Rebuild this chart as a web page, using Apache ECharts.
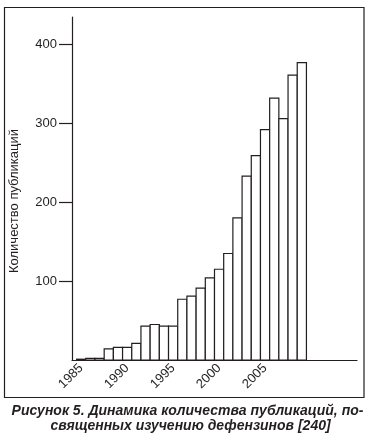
<!DOCTYPE html>
<html>
<head>
<meta charset="utf-8">
<script src="https://cdn.jsdelivr.net/npm/echarts@6/dist/echarts.min.js"></script>
<style>
html,body{margin:0;padding:0;background:#fff;}
#c{width:374px;height:439px;}
</style>
</head>
<body>
<div id="c"></div>
<script>
const years = [1985,1986,1987,1988,1989,1990,1991,1992,1993,1994,1995,1996,1997,1998,1999,2000,2001,2002,2003,2004,2005,2006,2007,2008,2009];
const publications = [1,2,2,14,16,16,21,43,45,43,43,77,81,91,104,115,135,180,233,259,292,332,306,361,377];
const xTickLabels = [1985,1990,1995,2000,2005];
const yTickLabels = [100,200,300,400];
const yTitle = 'Количество публикаций';
const captionLine1 = 'Рисунок 5. Динамика количества публикаций, по-';
const captionLine2 = 'священных изучению дефензинов [240]';

const ink = '#231f20';
const font = '"Liberation Sans", Arial, sans-serif';

const chart = echarts.init(document.getElementById('c'), null, {renderer:'canvas'});
chart.setOption({
  animation: false,
  backgroundColor: '#ffffff',
  grid: {left: 72, right: 17, top: 17, bottom: 79, containLabel: false},
  xAxis: {
    type: 'value',
    min: 1984, max: 2015,
    axisLine: {show: true, lineStyle: {color: ink, width: 1.2}},
    axisTick: {show: false},
    splitLine: {show: false},
    axisLabel: {
      customValues: xTickLabels,
      rotate: 45, margin: 6,
      color: ink, fontFamily: font, fontSize: 13,
      formatter: v => String(v)
    }
  },
  yAxis: {
    type: 'value',
    min: 0, max: 434.7,
    axisLine: {show: true, lineStyle: {color: ink, width: 1.2}},
    axisTick: {show: true, inside: false, length: 13, customValues: yTickLabels, lineStyle: {color: ink, width: 1.2}},
    splitLine: {show: false},
    axisLabel: {customValues: yTickLabels, margin: 15, color: ink, fontFamily: font, fontSize: 13}
  },
  series: [{
    type: 'custom',
    data: years.map((y, i) => [y, publications[i]]),
    encode: {x: 0, y: 1},
    renderItem: function (params, api) {
      const yr = api.value(0), v = api.value(1);
      const p0 = api.coord([yr - 0.5, v]);
      const p1 = api.coord([yr + 0.5, 0]);
      return {
        type: 'rect',
        shape: {x: p0[0], y: p0[1], width: p1[0] - p0[0], height: p1[1] - p0[1]},
        style: {fill: '#ffffff', stroke: ink, lineWidth: 1.2}
      };
    }
  }],
  graphic: [
    {type: 'rect', shape: {x: 4.5, y: 7.5, width: 359.5, height: 390}, style: {fill: null, stroke: ink, lineWidth: 1.2}, silent: true},
    {type: 'text', x: 14, y: 201, rotation: Math.PI/2,
     style: {text: yTitle, font: '13px ' + font, fill: ink, align: 'center', verticalAlign: 'middle'}},
    {type: 'text', x: 187.5, y: 411,
     style: {text: captionLine1, font: 'italic bold 14px ' + font, fill: ink, align: 'center', verticalAlign: 'middle'}},
    {type: 'text', x: 190.5, y: 426,
     style: {text: captionLine2, font: 'italic bold 14px ' + font, fill: ink, align: 'center', verticalAlign: 'middle'}}
  ]
});
</script>
</body>
</html>
